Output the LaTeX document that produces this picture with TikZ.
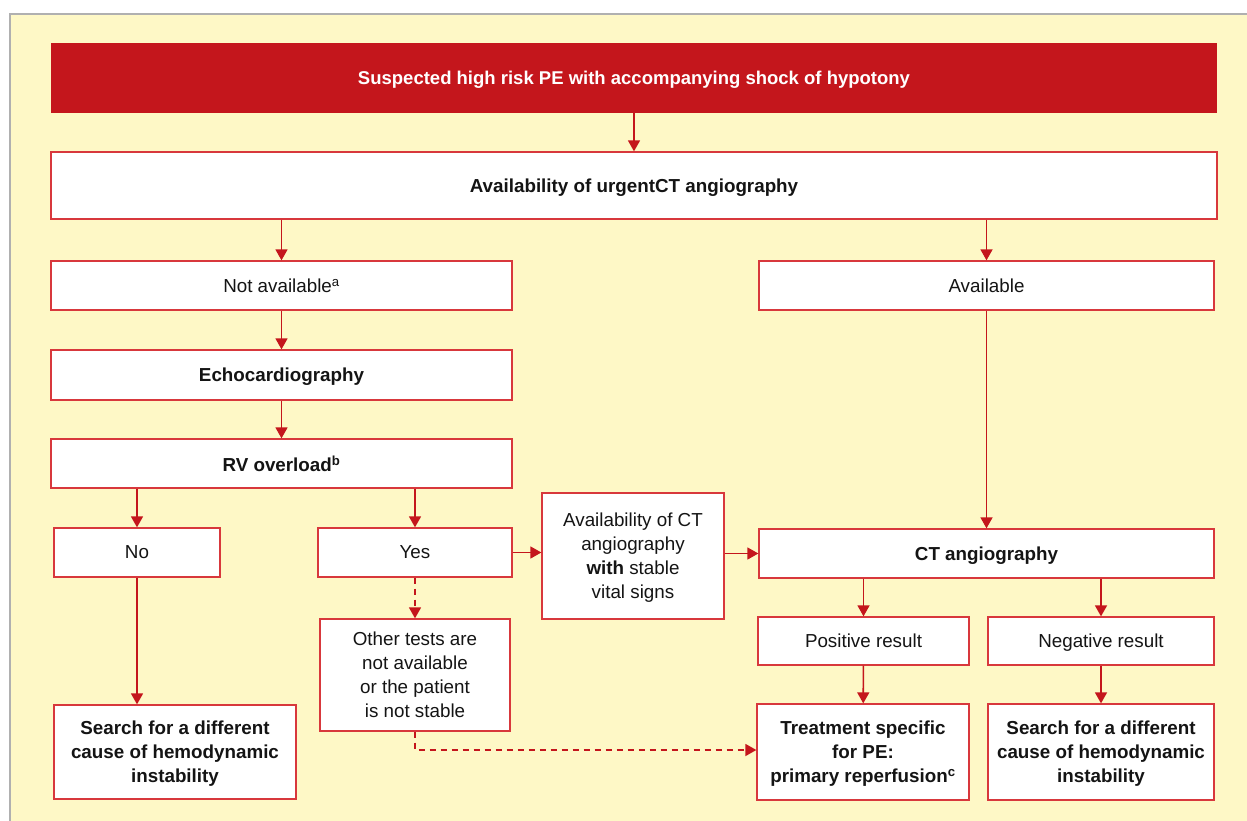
\documentclass[tikz,border=0pt]{standalone}
\usepackage{fontspec}
\setmainfont{Liberation Sans}
\usetikzlibrary{arrows.meta,calc}
\definecolor{bgyellow}{HTML}{FEF8C6}
\definecolor{pered}{HTML}{C4161C}
\definecolor{boxred}{HTML}{D8383C}
\definecolor{framegray}{HTML}{B0B0B0}
\tikzset{
  box/.style={draw=boxred, line width=1.3pt, fill=white, inner sep=0pt, align=center,
    text depth=0pt, font=\fontsize{18.8}{24}\selectfont, text=black!92},
  bbox/.style={box, font=\fontsize{18.8}{24}\selectfont\bfseries},
  arr/.style={draw=pered, line width=1.6pt, -{Triangle[length=11pt,width=12pt]}},
  darr/.style={arr, dash pattern=on 6pt off 5pt},
}
\begin{document}
\begin{tikzpicture}[x=1pt,y=-1pt]
\useasboundingbox (0,0) rectangle (1247,821);
\fill[white] (0,0) rectangle (1247,821);
\filldraw[fill=bgyellow, draw=framegray, line width=1.5pt] (10,14) rectangle (1260,835);

\node[fill=pered, minimum width=1166pt, minimum height=70pt, inner sep=0pt, text=white,
  text depth=0pt, font=\fontsize{18.5}{24}\selectfont\bfseries] (title) at (634,78) {Suspected high risk PE with accompanying shock of hypotony};
\node[bbox, minimum width=1166pt, minimum height=67pt] (avail) at (634,185.5) {Availability of urgentCT angiography};
\node[box, minimum width=461pt, minimum height=49pt] (notav) at (281.5,285.5) {Not available\textsuperscript{a}};
\node[bbox, minimum width=461pt, minimum height=50pt] (echo) at (281.5,375) {Echocardiography};
\node[bbox, minimum width=461pt, minimum height=49pt] (rv) at (281.5,463.5) {RV overload\textsuperscript{b}};
\node[box, minimum width=455pt, minimum height=49pt] (avl) at (986.5,285.5) {Available};
\node[box, minimum width=166pt, minimum height=49pt] (no) at (137,552.5) {No};
\node[box, minimum width=194pt, minimum height=49pt] (yes) at (415,552.5) {Yes};
\node[box, minimum width=182pt, minimum height=126pt] (acta) at (633,556) {Availability of CT\\angiography\\\textbf{with} stable\\vital signs};
\node[bbox, minimum width=455pt, minimum height=49pt] (cta) at (986.5,553.5) {CT angiography};
\node[box, minimum width=190pt, minimum height=112pt] (other) at (415,675) {Other tests are\\not available\\or the patient\\is not stable};
\node[box, minimum width=211pt, minimum height=48pt] (pos) at (863.5,641) {Positive result};
\node[box, minimum width=226pt, minimum height=48pt] (neg) at (1101,641) {Negative result};
\node[bbox, minimum width=212pt, minimum height=96pt] (treat) at (863,752) {Treatment specific\\for PE:\\primary reperfusion\textsuperscript{c}};
\node[bbox, minimum width=226pt, minimum height=96pt] (searchR) at (1101,752) {Search for a different\\cause of hemodynamic\\instability};
\node[bbox, minimum width=242pt, minimum height=94pt] (searchL) at (175,752) {Search for a different\\cause of hemodynamic\\instability};

\draw[arr] (title) -- (avail);
\draw[arr] (avail.south -| notav) -- (notav);
\draw[arr] (avail.south -| avl) -- (avl);
\draw[arr] (notav) -- (echo);
\draw[arr] (echo) -- (rv);
\draw[arr] (avl) -- (cta);
\draw[arr] (rv.south -| no) -- (no);
\draw[arr] (rv.south -| yes) -- (yes);
\draw[arr] (yes.east) -- (yes.east -| acta.west);
\draw[arr] (acta.east |- cta) -- (cta);
\draw[darr] (yes) -- (other);
\draw[darr] (other.south) |- ($(treat.west)+(0,-2)$);
\draw[arr] (cta.south -| pos) -- (pos);
\draw[arr] (cta.south -| neg) -- (neg);
\draw[arr] (pos) -- (treat);
\draw[arr] (neg) -- (searchR);
\draw[arr] (no) -- (no |- searchL.north);
\end{tikzpicture}
\end{document}
